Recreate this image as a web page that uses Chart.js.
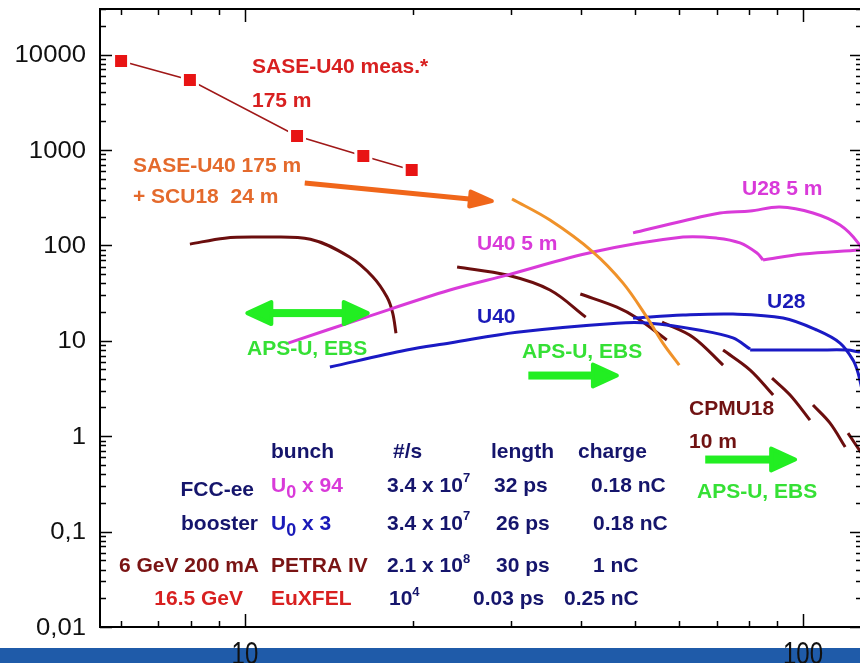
<!DOCTYPE html>
<html>
<head>
<meta charset="utf-8">
<script src="https://cdn.jsdelivr.net/npm/chart.js@4.4.0/dist/chart.umd.min.js"></script>
<style>
  html, body { margin: 0; padding: 0; background: #fff; overflow: hidden; }
</style>
</head>
<body>
<canvas id="chart" width="860" height="663"></canvas>
<script>
// SASE-U40 measured
const saseX = [6.0, 7.97, 12.4, 16.3, 19.9];
const saseY = [8550, 5400, 1400, 863, 616];

// PETRA IV arch (low energy)
const petraAX = [7.97, 9.2, 10.6, 13.1, 15.4, 16.96, 17.97, 18.4, 18.65];
const petraAY = [103, 119, 122, 116, 75.4, 46.6, 28.7, 19.5, 12.0];

// CPMU18 harmonics
const cpmuAX = [24.0, 29.5, 35.2, 40.8];
const cpmuAY = [59.2, 48.8, 34.0, 17.7];
const cpmuBX = [39.9, 46.4, 50.4, 57.0];
const cpmuBY = [30.9, 22.5, 17.3, 10.2];
const cpmuCX = [55.9, 63.5, 71.9];
const cpmuCY = [15.7, 10.9, 5.56];
const cpmuDX = [71.9, 80.4, 88.4];
const cpmuDY = [7.99, 4.93, 2.70];
const cpmuEX = [88.0, 94.8, 102.9];
const cpmuEY = [4.06, 2.70, 1.475];
const cpmuFX = [104.2, 111.8, 119.0];
const cpmuFY = [2.12, 1.37, 0.769];
const cpmuGX = [120.4, 125.5, 132];
const cpmuGY = [1.078, 0.750, 0.498];

// U40 5 m (FCC-ee)
const u40pX = [11.95, 16.5, 23.3, 29.5, 42.05, 60.95, 70.2, 77.1, 82.7, 84.8];
const u40pY = [9.46, 17.7, 34.0, 48.8, 85.1, 122, 119, 106, 83.0, 70.2];
const u40p2X = [84.8, 100, 126.5, 132];
const u40p2Y = [70.2, 81.1, 89.3, 92];

// U28 5 m (FCC-ee)
const u28pX = [49.6, 60.95, 71.0, 80.4, 90.9, 104.2, 116.5, 125.5, 132];
const u28pY = [135, 180, 218, 229, 252, 218, 163, 106, 62];

// SASE-U40 + SCU18
const scuX = [30.1, 35.2, 42.05, 47.6, 52.5, 56.1, 60.0];
const scuY = [306, 184, 85.1, 40.2, 17.7, 9.46, 5.56];

// U40 / U28 (booster)
const u40bX = [14.2, 19.5, 23.3, 30.7, 46.4, 53.2, 65.4, 74.9, 80.4];
const u40bY = [5.30, 7.99, 9.46, 12.3, 15.3, 15.3, 12.9, 10.7, 8.18];
const u40b2X = [80.4, 106, 119.9, 126.5, 132];
const u40b2Y = [7.99, 7.99, 7.99, 7.61, 7.4];
const u28bX = [49.6, 60.95, 74.9, 92.1, 106, 116.5, 122.9, 125.5, 127.6];
const u28bY = [17.3, 18.6, 19.05, 17.3, 12.9, 9.46, 6.28, 4.59, 3.04];

// axis ticks
const yTicks = [0.01, 0.1, 1, 10, 100, 1000, 10000];
const xTicks = [10, 100];

const pts = (xs, ys) => xs.map((x, i) => ({ x: x, y: ys[i] }));

// big square markers should not shrink the plot area
Chart.registry.getController('line').prototype.getMaxOverflow = function () { return 0; };

const DARKRED = '#6b0e0e';
const MAGENTA = '#d93ad9';
const BLUE = '#1a1ac4';

function curve(xs, ys, color) {
  return {
    data: pts(xs, ys),
    borderColor: color,
    borderWidth: 3,
    pointRadius: 0,
    tension: 0.35,
    fill: false
  };
}

const datasets = [
  {
    data: pts(saseX, saseY),
    borderColor: '#a01818',
    borderWidth: 1.5,
    pointStyle: 'rect',
    pointRadius: 10.6,
    pointBackgroundColor: '#e81414',
    pointBorderColor: '#ffffff',
    pointBorderWidth: 3,
    tension: 0
  },
  curve(scuX, scuY, '#f0922a'),
  curve(u40pX, u40pY, MAGENTA),
  curve(u40p2X, u40p2Y, MAGENTA),
  curve(u28pX, u28pY, MAGENTA),
  curve(u40bX, u40bY, BLUE),
  curve(u40b2X, u40b2Y, BLUE),
  curve(u28bX, u28bY, BLUE),
  curve(petraAX, petraAY, DARKRED),
  curve(cpmuAX, cpmuAY, DARKRED),
  curve(cpmuBX, cpmuBY, DARKRED),
  curve(cpmuCX, cpmuCY, DARKRED),
  curve(cpmuDX, cpmuDY, DARKRED),
  curve(cpmuEX, cpmuEY, DARKRED),
  curve(cpmuFX, cpmuFY, DARKRED),
  curve(cpmuGX, cpmuGY, DARKRED)
];

// arrows in data coordinates
const arrows = [
  { from: [12.8, 450], to: [27.7, 291], color: '#f0661a', shaft: 5, len: 22, half: 7.5, both: false },
  { from: [10.1, 19.5], to: [16.6, 19.5], color: '#22ee22', shaft: 8, len: 24, half: 11, both: true },
  { from: [32.2, 4.32], to: [46.4, 4.32], color: '#22ee22', shaft: 8, len: 24, half: 11, both: false },
  { from: [66.8, 0.569], to: [96.8, 0.569], color: '#22ee22', shaft: 8, len: 24, half: 11, both: false }
];

const RED = '#d82020';
const ORANGE = '#e46a2c';
const GREEN = '#35e035';
const NAVY = '#15156c';
const TBLUE = '#1a1ab8';

const F = 'bold 21px "Liberation Sans", Arial, sans-serif';
const FSUP = 'bold 13px "Liberation Sans", Arial, sans-serif';
const FSUB = 'bold 18px "Liberation Sans", Arial, sans-serif';

// [text, x, baseline, color, align]
const labels = [
  ['SASE-U40 meas.*', 252, 73, RED],
  ['175 m', 252, 107, RED],
  ['SASE-U40 175 m', 133, 172, ORANGE],
  ['+ SCU18  24 m', 133, 203, ORANGE],
  ['U40 5 m', 477, 250, MAGENTA],
  ['U28 5 m', 742, 195, MAGENTA],
  ['U40', 477, 323, TBLUE],
  ['U28', 767, 308, TBLUE],
  ['APS-U, EBS', 247, 355, GREEN],
  ['APS-U, EBS', 522, 358, GREEN],
  ['APS-U, EBS', 697, 498, GREEN],
  ['CPMU18', 689, 415, '#701212'],
  ['10 m', 689, 448, '#701212'],
  ['bunch', 271, 458, NAVY],
  ['#/s', 393, 458, NAVY],
  ['length', 491, 458, NAVY],
  ['charge', 578, 458, NAVY],
  ['FCC-ee', 254, 496, NAVY, 'right'],
  ['32 ps', 494, 492, NAVY],
  ['0.18 nC', 591, 492, NAVY],
  ['booster', 258, 530, NAVY, 'right'],
  ['26 ps', 496, 530, NAVY],
  ['0.18 nC', 593, 530, NAVY],
  ['6 GeV 200 mA', 259, 572, '#7a1414', 'right'],
  ['PETRA IV', 271, 572, '#7a1414'],
  ['30 ps', 496, 572, NAVY],
  ['1 nC', 593, 572, NAVY],
  ['16.5 GeV', 243, 605, RED, 'right'],
  ['EuXFEL', 271, 605, RED],
  ['0.03 ps', 473, 605, NAVY],
  ['0.25 nC', 564, 605, NAVY]
];

// rich text pieces: [x, baseline, color, [[text, font, dy], ...]]
const richLabels = [
  [271, 492, MAGENTA, [['U', F, 0], ['0', FSUB, 6], [' x 94', F, 0]]],
  [271, 530, TBLUE, [['U', F, 0], ['0', FSUB, 6], [' x 3', F, 0]]],
  [387, 492, NAVY, [['3.4 x 10', F, 0], ['7', FSUP, -10]]],
  [387, 530, NAVY, [['3.4 x 10', F, 0], ['7', FSUP, -10]]],
  [387, 572, NAVY, [['2.1 x 10', F, 0], ['8', FSUP, -9]]],
  [389, 605, NAVY, [['10', F, 0], ['4', FSUP, -9]]]
];

function drawArrow(c, x1, y1, x2, y2, a) {
  const dx = x2 - x1, dy = y2 - y1;
  const L = Math.hypot(dx, dy);
  c.save();
  c.translate(x1, y1);
  c.rotate(Math.atan2(dy, dx));
  c.fillStyle = a.color;
  c.strokeStyle = a.color;
  c.lineJoin = 'round';
  c.lineWidth = 4;
  const s0 = a.both ? a.len - 2 : 0;
  c.fillRect(s0, -a.shaft / 2, L - a.len + 2 - s0, a.shaft);
  c.beginPath();
  c.moveTo(L, 0);
  c.lineTo(L - a.len, -a.half);
  c.lineTo(L - a.len, a.half);
  c.closePath();
  c.fill();
  c.stroke();
  if (a.both) {
    c.beginPath();
    c.moveTo(0, 0);
    c.lineTo(a.len, -a.half);
    c.lineTo(a.len, a.half);
    c.closePath();
    c.fill();
    c.stroke();
  }
  c.restore();
}

const decor = {
  id: 'decor',
  beforeDraw(chart) {
    const c = chart.ctx;
    c.save();
    c.fillStyle = '#fff';
    c.fillRect(0, 0, chart.width, chart.height);
    c.fillStyle = '#1f5ba9';
    c.fillRect(0, 648, chart.width, chart.height - 648);
    c.restore();
  },
  afterDatasetsDraw(chart) {
    const c = chart.ctx, xs = chart.scales.x, ys = chart.scales.y;
    arrows.forEach(a => {
      drawArrow(c,
        xs.getPixelForValue(a.from[0]), ys.getPixelForValue(a.from[1]),
        xs.getPixelForValue(a.to[0]), ys.getPixelForValue(a.to[1]), a);
    });
  },
  afterDraw(chart) {
    const c = chart.ctx, xs = chart.scales.x, ys = chart.scales.y;
    const A = chart.chartArea;
    const R = A.right + 2; // right frame sits just past the canvas edge
    c.save();
    c.strokeStyle = '#000';
    c.lineWidth = 2;
    c.beginPath();
    c.moveTo(R, A.top); c.lineTo(A.left, A.top);
    c.lineTo(A.left, A.bottom); c.lineTo(R, A.bottom);
    c.stroke();

    // inward ticks
    c.lineWidth = 1.5;
    c.beginPath();
    for (let e = -2; e <= 4; e++) {
      for (let m = 1; m <= 9; m++) {
        const v = m * Math.pow(10, e);
        if (v > ys.max * 1.0001) continue;
        const py = Math.round(ys.getPixelForValue(v)) + 0.5;
        const len = m === 1 ? 12 : 6;
        c.moveTo(A.left, py); c.lineTo(A.left + len, py);
        c.moveTo(R, py); c.lineTo(R - len, py);
      }
    }
    for (let e = 0; e <= 2; e++) {
      for (let m = 1; m <= 9; m++) {
        const v = m * Math.pow(10, e);
        if (v < xs.min || v > xs.max) continue;
        const px = Math.round(xs.getPixelForValue(v)) + 0.5;
        const len = m === 1 ? 13 : 6;
        c.moveTo(px, A.bottom); c.lineTo(px, A.bottom - len);
        c.moveTo(px, A.top); c.lineTo(px, A.top + len);
      }
    }
    c.stroke();

    // axis labels (slightly stretched like the original slide)
    c.fillStyle = '#111';
    c.font = '24px "Liberation Sans", Arial, sans-serif';
    c.textAlign = 'right';
    c.textBaseline = 'middle';
    yTicks.forEach(v => {
      c.save();
      c.translate(86, ys.getPixelForValue(v) + 1);
      c.scale(1.07, 1);
      c.fillText(String(v).replace('.', ','), 0, 0);
      c.restore();
    });
    c.textAlign = 'center';
    c.textBaseline = 'alphabetic';
    xTicks.forEach(v => {
      c.save();
      c.translate(xs.getPixelForValue(v), 642);
      c.scale(1, 1.3);
      c.fillText(String(v), 0, 17.3);
      c.restore();
    });

    // annotations
    c.font = F;
    labels.forEach(l => {
      c.fillStyle = l[3];
      c.textAlign = l[4] || 'left';
      c.fillText(l[0], l[1], l[2]);
    });
    c.textAlign = 'left';
    richLabels.forEach(r => {
      let x = r[0];
      c.fillStyle = r[2];
      r[3].forEach(p => {
        c.font = p[1];
        c.fillText(p[0], x, r[1] + p[2]);
        x += c.measureText(p[0]).width;
      });
    });
    c.restore();
  }
};

new Chart(document.getElementById('chart'), {
  type: 'line',
  data: { datasets: datasets },
  options: {
    responsive: false,
    animation: false,
    devicePixelRatio: 1,
    layout: { padding: { top: 9, right: 0, left: 0, bottom: 0 } },
    plugins: { legend: { display: false }, tooltip: { enabled: false } },
    scales: {
      x: {
        type: 'logarithmic', min: 5.5, max: 126.5,
        grid: { display: false }, border: { display: false },
        ticks: { display: false },
        afterFit(s) { s.height = 36; }
      },
      y: {
        type: 'logarithmic', min: 0.01, max: 30000,
        grid: { display: false }, border: { display: false },
        ticks: { display: false },
        afterFit(s) { s.width = 100; }
      }
    }
  },
  plugins: [decor]
});
</script>
</body>
</html>
